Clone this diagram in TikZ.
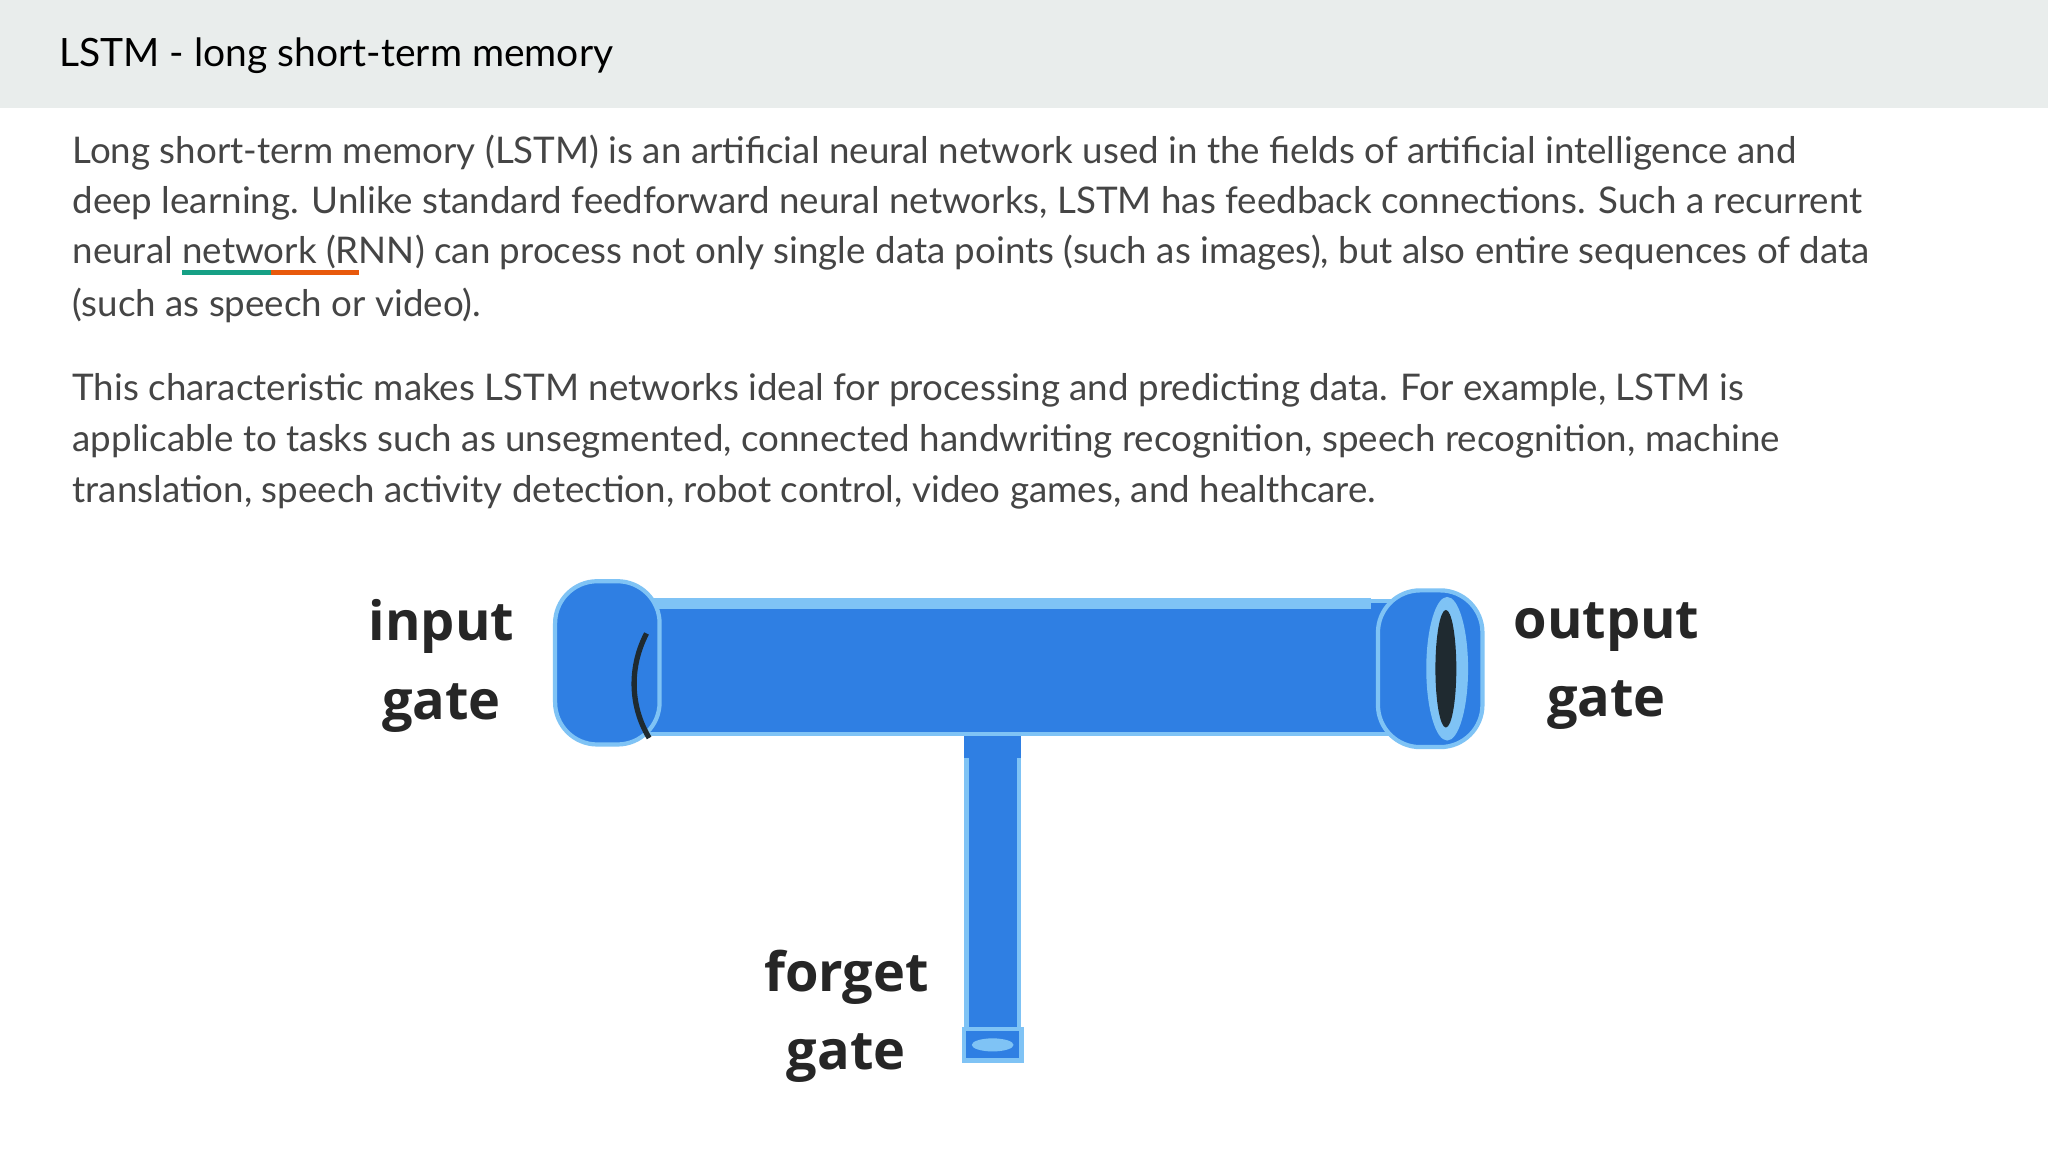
\documentclass[tikz,border=0pt]{standalone}
\usepackage{fontspec}
\setmainfont{Lato}
\newfontfamily\lbl{Open Sans}
\definecolor{hdr}{HTML}{E9EDEC}
\definecolor{txt}{HTML}{454545}
\definecolor{pipe}{HTML}{2F7FE3}
\definecolor{pipel}{HTML}{7FC3F5}
\definecolor{pipedk}{HTML}{1F2A30}
\definecolor{teal}{HTML}{16A085}
\definecolor{orng}{HTML}{E8590C}
\newsavebox\ubox
\newcommand\twotone[1]{\sbox\ubox{#1}\rlap{\raisebox{-3.2pt}{\color{teal}\rule{0.5\wd\ubox}{1.3pt}\color{orng}\rule{0.5\wd\ubox}{1.3pt}}}\usebox\ubox}
\tikzset{bodyline/.style={anchor=west,inner sep=0pt,text=txt,font=\fontsize{10.45}{13}\selectfont},
 gatelbl/.style={align=center,font=\lbl\bfseries\fontsize{15.4}{22.3}\selectfont,text=black!85},
 pipebody/.style={fill=pipe,draw=pipel,line width=1.2pt}}
\begin{document}
\begin{tikzpicture}[x=0.013061cm,y=-0.013061cm]
\useasboundingbox (0,0) rectangle (1568,882);
\fill[white] (0,0) rectangle (1568,882);
\fill[hdr] (0,0) rectangle (1568,83);
\node[anchor=west,inner sep=0pt,font=\fontsize{11.1}{13}\selectfont] (title) at (45,43) {LSTM - long short-term memory};
\node[bodyline] (l1) at (55,117) {Long short-term memory (LSTM) is an artificial neural network used in the fields of artificial intelligence and};
\node[bodyline] (l2) at (55,156) {deep learning. Unlike standard feedforward neural networks, LSTM has feedback connections. Such a recurrent};
\node[bodyline] (l3) at (55,195) {neural \twotone{network (R}NN) can process not only single data points (such as images), but also entire sequences of data};
\node[bodyline] (l4) at (55,234) {(such as speech or video).};
\node[bodyline] (l5) at (55,299) {This characteristic makes LSTM networks ideal for processing and predicting data. For example, LSTM is};
\node[bodyline] (l6) at (55,338) {applicable to tasks such as unsegmented, connected handwriting recognition, speech recognition, machine};
\node[bodyline] (l7) at (55,377) {translation, speech activity detection, robot control, video games, and healthcare.};
% pipe
\fill[pipe,draw=pipel,line width=1.2pt] (740,555) rectangle (780,800);
\fill[pipe] (738,555) rectangle (782,580);
\fill[pipe,draw=pipel,line width=1.2pt] (738,788) rectangle (782,812);
\fill[pipel] (760,800) ellipse (16 and 5);
\fill[pipebody] (485,460) rectangle (1070,562);
\fill[pipel] (485,458) rectangle (1050,466);
\fill[pipebody,rounded corners=12pt] (425,445) rectangle (505,570);
\draw[pipedk,line width=1.5pt] (495,485) .. controls (482,510) and (482,540) .. (497,565);
\fill[pipebody,rounded corners=12pt] (1055,452) rectangle (1135,572);
\fill[pipel] (1108,512) ellipse (16 and 55);
\fill[pipedk] (1107,512) ellipse (8 and 45);
\node[gatelbl] (in) at (338,510) {input\\gate};
\node[gatelbl] (out) at (1230,510) {output\\gate};
\node[gatelbl] (fg) at (648,778) {forget\\gate};
\end{tikzpicture}
\end{document}
